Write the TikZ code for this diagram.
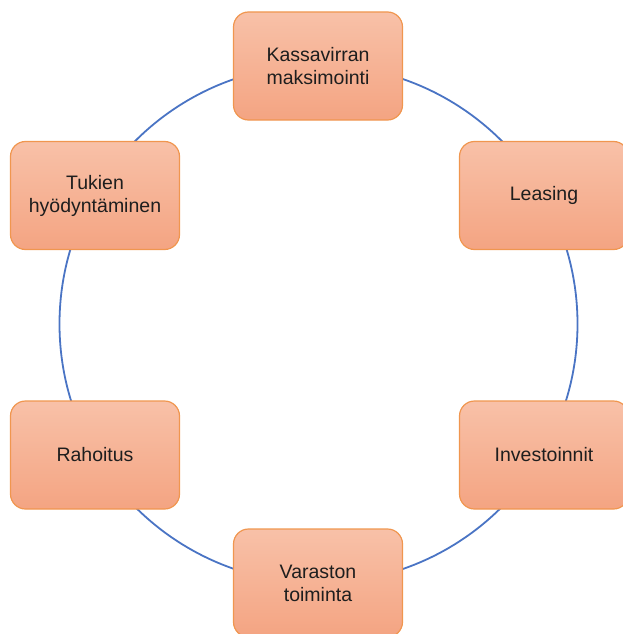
\documentclass[tikz,border=0pt]{standalone}
\usepackage{fontspec}
\setmainfont{Liberation Sans}
\definecolor{boxtop}{HTML}{F8C1A8}
\definecolor{boxbot}{HTML}{F4A482}
\definecolor{boxline}{HTML}{F0964F}
\definecolor{ringblue}{HTML}{4A74C4}
\definecolor{txt}{HTML}{1E1E1E}
\tikzset{
  stage/.style={draw=boxline, line width=1.2pt, rounded corners=15pt,
    top color=boxtop, bottom color=boxbot, minimum width=169pt, minimum height=108pt,
    align=center, text=txt, font=\fontsize{19.5pt}{23pt}\selectfont, inner sep=2pt},
  ring/.style={draw=ringblue, line width=1.8pt}
}
\begin{document}
\begin{tikzpicture}[x=1pt,y=-1pt]
\useasboundingbox (0,0) rectangle (622,634);
\coordinate (c) at (318.5,324);
\draw[ring] (c) circle[radius=259];
\node[stage] (n1) at (318,66) {Kassavirran\\maksimointi};
\node[stage] (n2) at (544,195.5) {Leasing};
\node[stage] (n3) at (544,455) {Investoinnit};
\node[stage] (n4) at (318,583) {Varaston\\toiminta};
\node[stage] (n5) at (95,455) {Rahoitus};
\node[stage] (n6) at (95,195.5) {Tukien\\hyödyntäminen};
\end{tikzpicture}
\end{document}
